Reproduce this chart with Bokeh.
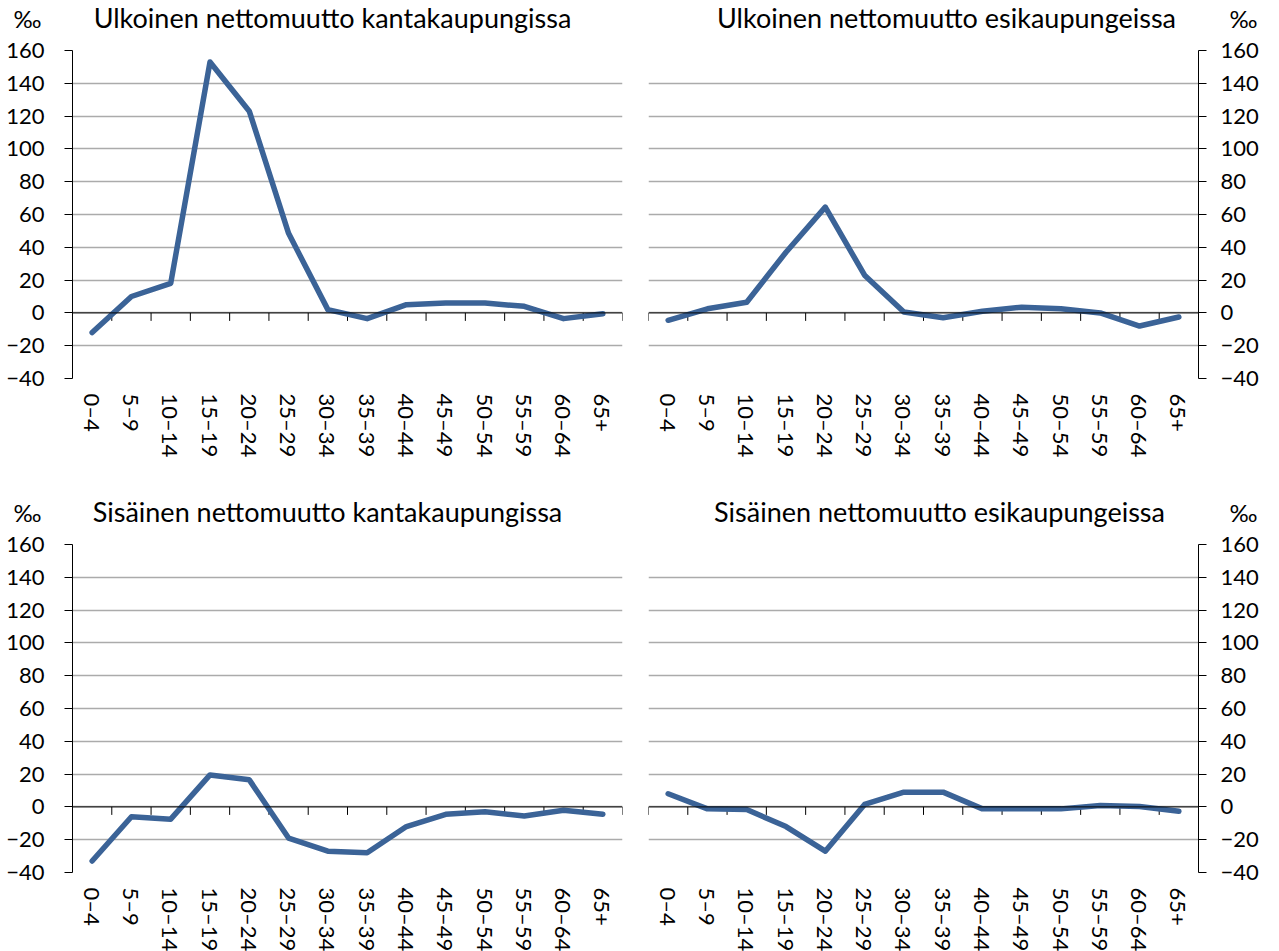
import math
from bokeh.plotting import figure
from bokeh.layouts import column, row
from bokeh.models import FixedTicker, Span, Label, FactorRange, Range1d
from bokeh.embed import file_html
from bokeh.resources import INLINE

# ---- data ----
ages = ["0–4", "5–9", "10–14", "15–19", "20–24", "25–29", "30–34",
        "35–39", "40–44", "45–49", "50–54", "55–59", "60–64", "65+"]
ulkoinen_kanta = [-12, 10, 18, 153, 123, 48.5, 2, -3.5, 5, 6, 6, 4, -3.5, -0.5]
ulkoinen_esi = [-4.5, 2.5, 6.5, 37, 64.5, 23, 0.5, -3, 1, 3.5, 2.5, 0, -8, -2.5]
sisainen_kanta = [-33, -6, -7.5, 19.5, 16.5, -19, -27, -28, -12, -4.5, -3, -5.5, -2, -4.5]
sisainen_esi = [8, -1.2, -1.6, -12, -27, 1.5, 9, 9, -1.2, -1.2, -1.2, 0.8, 0.3, -2.7]
y_ticks = [-40, -20, 0, 20, 40, 60, 80, 100, 120, 140, 160]
titles = ["Ulkoinen nettomuutto kantakaupungissa",
          "Ulkoinen nettomuutto esikaupungeissa",
          "Sisäinen nettomuutto kantakaupungissa",
          "Sisäinen nettomuutto esikaupungeissa"]
unit = "‰"

LINE_COLOR = "#3B6397"
GRID_COLOR = "#ABABAB"
FONT = "Lato"
FW, FH = 550, 328
TICK_PX = 8
TOTAL_W = 72 + FW + 13 + 13 + FW + 78
HEADER_H = 35
PLOT_TOP = 15


def make_panel(values, side, bottom, left, right):
    p = figure(x_range=FactorRange(factors=ages, range_padding=0, factor_padding=0),
               y_range=Range1d(-40, 160),
               frame_width=FW, frame_height=FH,
               min_border_top=PLOT_TOP, min_border_bottom=bottom,
               min_border_left=left, min_border_right=right,
               y_axis_location=side,
               output_backend="svg", toolbar_location=None)
    p.outline_line_color = None
    p.background_fill_color = "white"
    p.border_fill_color = "white"

    p.xgrid.visible = False
    p.ygrid.ticker = FixedTicker(ticks=y_ticks)
    p.ygrid.grid_line_color = GRID_COLOR
    p.ygrid.grid_line_width = 1.5

    ya = p.yaxis[0]
    ya.ticker = FixedTicker(ticks=y_ticks)
    ya.axis_line_color = "black"
    ya.axis_line_width = 1
    ya.major_tick_line_color = "black"
    ya.major_tick_out = TICK_PX
    ya.major_tick_in = 0
    ya.minor_tick_line_color = None
    ya.major_label_text_font = FONT
    ya.major_label_text_font_size = "22px"
    ya.major_label_text_color = "black"
    ya.major_label_standoff = 20 if side == "left" else 14

    xa = p.xaxis[0]
    xa.axis_line_color = None
    xa.major_tick_line_color = None
    xa.minor_tick_line_color = None
    xa.major_label_orientation = -math.pi / 2
    xa.major_label_text_font = FONT
    xa.major_label_text_font_size = "22px"
    xa.major_label_text_color = "black"
    xa.major_label_standoff = 9

    # zero line with category boundary ticks
    p.add_layout(Span(location=0, dimension="width", line_color="black", line_width=1))
    bounds = [(a, -0.5) for a in ages] + [(ages[-1], 0.5)]
    tick_len = TICK_PX * (160 - (-40)) / FH
    p.segment(x0=bounds, y0=[0] * len(bounds), x1=bounds, y1=[-tick_len] * len(bounds),
              line_color="black", line_width=1)

    p.line(x=ages, y=values, line_color=LINE_COLOR, line_width=5.5,
           line_join="round", line_cap="round")
    return p


def make_header(items):
    h = figure(width=TOTAL_W, height=HEADER_H, x_range=Range1d(0, TOTAL_W),
               y_range=Range1d(0, HEADER_H), min_border=0,
               output_backend="svg", toolbar_location=None)
    h.axis.visible = False
    h.grid.visible = False
    h.outline_line_color = None
    for text, x, y, size in items:
        h.add_layout(Label(x=x, y=y, text=text, text_align="center",
                           text_baseline="middle", text_font=FONT,
                           text_font_size=size, text_color="black"))
    return h


header1 = make_header([(unit, 27, 17, "24px"),
                       (titles[0], 332, 18, "27px"),
                       (titles[1], 946, 18, "27px"),
                       (unit, 1243, 17, "24px")])
header2 = make_header([(unit, 27, 17, "24px"),
                       (titles[2], 327, 18, "27px"),
                       (titles[3], 939, 18, "27px"),
                       (unit, 1243, 17, "24px")])

p1 = make_panel(ulkoinen_kanta, "left", 116, 72, 13)
p2 = make_panel(ulkoinen_esi, "right", 116, 13, 78)
p3 = make_panel(sisainen_kanta, "left", 73, 72, 13)
p4 = make_panel(sisainen_esi, "right", 73, 13, 78)

layout = column(header1, row(p1, p2), header2, row(p3, p4))
open("out.html", "w").write(file_html(layout, INLINE))
